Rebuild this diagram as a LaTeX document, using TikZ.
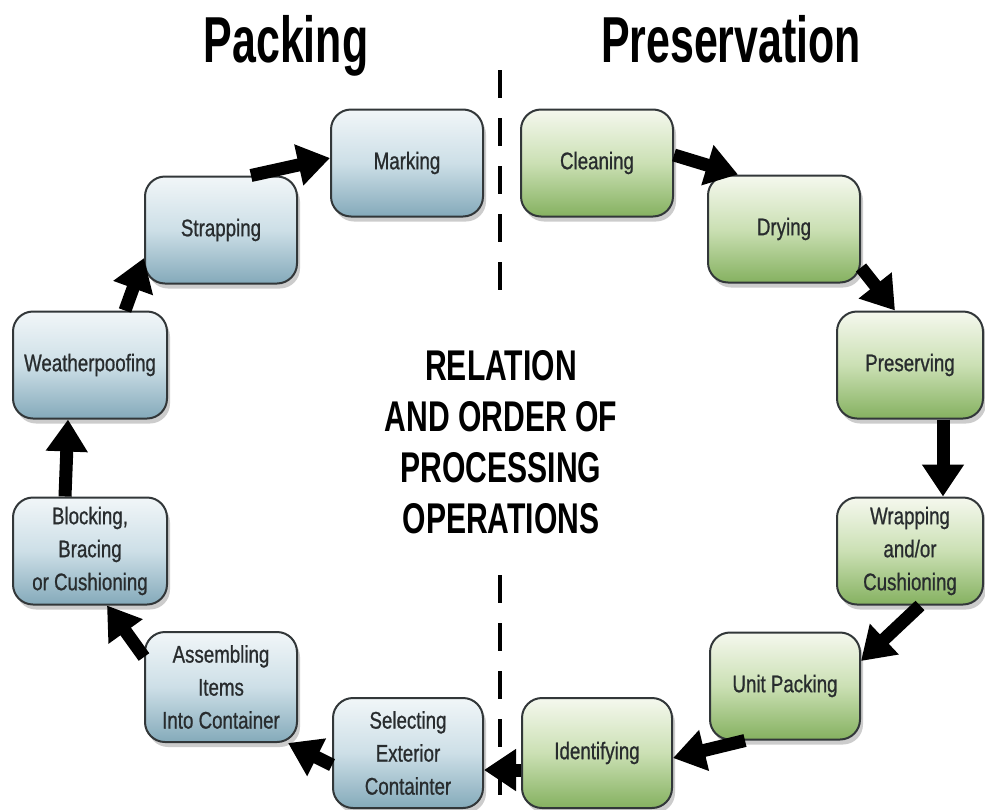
\documentclass[tikz,border=0pt]{standalone}
\usepackage{fontspec}
\setmainfont{Liberation Sans}
\newfontfamily\boxfont[FakeStretch=0.78,FakeBold=0.8]{Liberation Sans}
\newfontfamily\headfont[FakeStretch=0.66]{Liberation Sans}
\newfontfamily\midfont[FakeStretch=0.70]{Liberation Sans}
\usepackage{tikz}
\usetikzlibrary{calc,arrows.meta,shadows}

\definecolor{packtop}{RGB}{241,246,248}
\definecolor{packmid}{RGB}{205,223,231}
\definecolor{packbot}{RGB}{132,170,186}
\definecolor{prestop}{RGB}{245,248,238}
\definecolor{presmid}{RGB}{203,224,180}
\definecolor{presbot}{RGB}{133,177,96}
\definecolor{boxline}{RGB}{50,55,57}
\definecolor{boxtext}{RGB}{40,44,46}

\tikzset{
	opbox/.style={draw=boxline, line width=2pt, rounded corners=20pt,
		minimum width=152pt, minimum height=107pt, inner sep=0pt, align=center,
		font=\boxfont\fontsize{24}{33}\selectfont, text=boxtext,
		drop shadow={shadow xshift=3pt, shadow yshift=-5pt, opacity=0.4}},
	packbox/.style={opbox, top color=packtop, bottom color=packbot, middle color=packmid},
	presbox/.style={opbox, top color=prestop, bottom color=presbot, middle color=presmid},
	flow/.style={line width=13pt, -{Triangle[length=32pt,width=40pt]}},
	divider/.style={line width=4pt, dash pattern=on 28pt off 20pt},
}

\begin{document}
\begin{tikzpicture}[x=1pt,y=-1pt]
		\useasboundingbox[fill=white] (0,0) rectangle (985,809);

		\node[anchor=base, font=\headfont\bfseries\fontsize{65}{70}\selectfont] (packing) at (286,62) {Packing};
		\node[anchor=base, font=\headfont\bfseries\fontsize{65}{70}\selectfont] (preservation) at (731,62) {Preservation};

		\draw[divider] (500,70) -- (500,300) (500,575) -- (500,809);

		\node[align=center, font=\midfont\bfseries\fontsize{43}{51}\selectfont] (relation) at (501,442)
			{RELATION\\AND ORDER OF\\PROCESSING\\OPERATIONS};

		% packing side
		\node[packbox] (marking) at (407,163) {Marking};
		\node[packbox] (strap) at (221,230) {Strapping};
		\node[packbox, minimum width=154pt] (weather) at (90,365) {Weatherpoofing};
		\node[packbox, minimum width=154pt] (block) at (90,551) {Blocking,\\Bracing\\or Cushioning};
		\node[packbox, minimum height=110pt] (assem) at (221,687) {Assembling\\Items\\Into Container};
		\node[packbox, minimum width=150pt, minimum height=110pt] (select) at (408,753) {Selecting\\Exterior\\Containter};

		% preservation side
		\node[presbox] (clean) at (597,163) {Cleaning};
		\node[presbox] (drying) at (784,229) {Drying};
		\node[presbox, minimum width=146pt] (preserv) at (910,365) {Preserving};
		\node[presbox, minimum width=146pt] (wrap) at (910,551) {Wrapping\\and/or\\Cushioning};
		\node[presbox, minimum width=150pt] (unit) at (785,686) {Unit Packing};
		\node[presbox, minimum width=150pt, minimum height=110pt] (ident) at (597,753) {Identifying};

		\draw[flow] ($(clean.east)+(0,-8)$) -- ($(drying.north)+(-46,0)$);
		\draw[flow] ($(drying.south east)+(0,-16)$) -- ($(preserv.north)+(-15,0)$);
		\draw[flow] ($(preserv.south)+(33,0)$) -- ($(wrap.north)+(33,0)$);
		\draw[flow] ($(wrap.south)+(10,0)$) -- ($(unit.east)+(0,-25)$);
		\draw[flow] ($(unit.south)+(-40,0)$) -- ($(ident.east)+(0,5)$);
		\draw[flow] ($(ident.west)+(0,17)$) -- ($(select.east)+(0,17)$);
		\draw[flow] ($(select.west)+(0,12)$) -- ($(assem.south east)+(-10,0)$);
		\draw[flow] ($(assem.west)+(0,-30)$) -- ($(block.south)+(17,0)$);
		\draw[flow] ($(block.north)+(-25,0)$) -- ($(weather.south)+(-22,0)$);
		\draw[flow] ($(weather.north)+(35,0)$) -- ($(strap.west)+(0,28)$);
		\draw[flow] ($(strap.north)+(30,0)$) -- ($(marking.west)+(0,-5)$);
	\end{tikzpicture}
\end{document}
